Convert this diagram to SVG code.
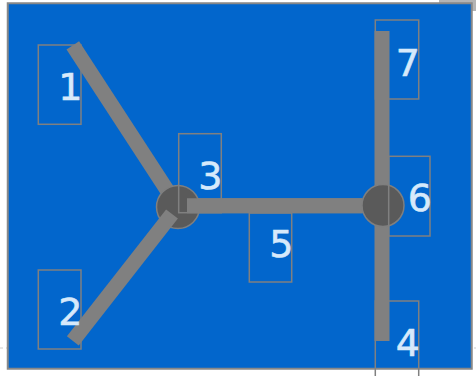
<svg xmlns="http://www.w3.org/2000/svg" width="476" height="376" viewBox="0 0 476 376">
<style>
.edge{stroke:#808080;stroke-width:15;fill:none;stroke-linecap:butt}
.box{fill:none;stroke:#808080;stroke-width:1.5}
.hub{fill:#5a5a5a;stroke:#7f7f7f;stroke-width:1.5}
.lbl{font-family:"DejaVu Sans",sans-serif;font-size:38px;fill:#D6E9FB;stroke:#D6E9FB;stroke-width:0.6;text-anchor:end}
</style>
<rect x="439" y="0" width="37" height="4" fill="#b4b4b4"/>
<rect x="472" y="0" width="4" height="11" fill="#b4b4b4"/>
<line x1="0" y1="348" x2="476" y2="348" stroke="#cccccc" stroke-width="1" stroke-dasharray="3,3"/>
<rect id="background" x="7.75" y="3.25" width="464" height="365.5" fill="#0266CC" stroke="#888888" stroke-width="2"/>
<g id="connectors">
<line class="edge" x1="72.8" y1="45.3" x2="167" y2="190"/>
<line class="edge" x1="382" y1="31" x2="382" y2="341"/>
<line class="edge" x1="187" y1="205.7" x2="383" y2="205.7"/>
</g>
<g id="hub3"><circle class="hub" cx="178" cy="207" r="21.5"/></g>
<g id="connectors-top">
<line class="edge" x1="72.8" y1="340.8" x2="172" y2="214"/>
<line class="edge" x1="187" y1="205.7" x2="362" y2="205.7"/>
</g>
<g id="hub6"><circle class="hub" cx="383" cy="205.5" r="21"/></g>
<g id="node1"><rect class="box" x="38.3" y="45" width="42.7" height="79.3"/><text class="lbl" x="82.5" y="100">1</text></g>
<g id="node2"><rect class="box" x="38.3" y="270" width="42.7" height="79"/><text class="lbl" x="82.5" y="325">2</text></g>
<g id="node3"><rect class="box" x="178.7" y="133.7" width="42.6" height="79"/><text class="lbl" x="222.5" y="189">3</text></g>
<g id="node5"><rect class="box" x="249.3" y="213" width="42.4" height="69"/><text class="lbl" x="293.5" y="257">5</text></g>
<g id="node6"><rect class="box" x="388.7" y="156.3" width="41.3" height="79.7"/><text class="lbl" x="432" y="211">6</text></g>
<g id="node7"><rect class="box" x="375.3" y="20" width="43.4" height="79"/><text class="lbl" x="420" y="76">7</text></g>
<g id="node4"><rect class="box" x="375.3" y="301" width="43.4" height="90"/><text class="lbl" x="420" y="356">4</text></g>
</svg>
